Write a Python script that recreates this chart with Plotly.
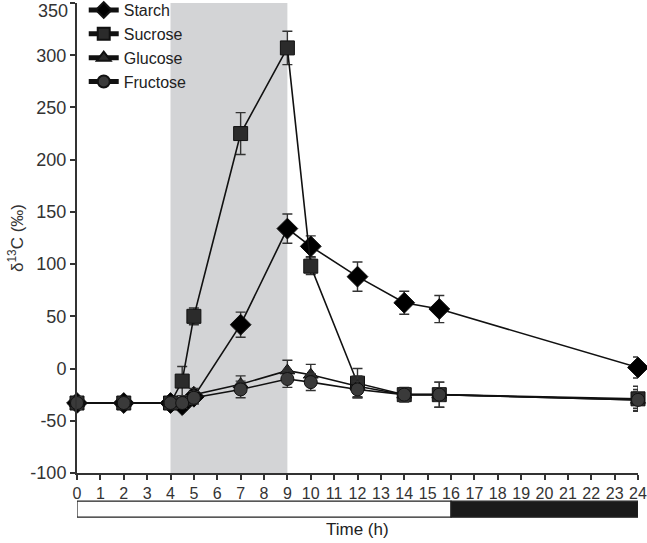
import plotly.graph_objects as go

time_h = [0, 2, 4, 4.5, 5, 7, 9, 10, 12, 14, 15.5, 24]
starch = [-33, -33, -33, -35, -27, 42, 134, 117, 88, 63, 57, 1]
starch_err = [6, 5, 5, 5, 6, 12, 14, 10, 14, 11, 13, 10]
sucrose = [-33, -33, -33, -12, 50, 225, 307, 98, -14, -25, -25, -29]
sucrose_err = [6, 5, 5, 14, 8, 20, 16, 8, 14, 7, 12, 12]
glucose = [-33, -33, -33, -33, -25, -15, -2, -6, -17, -25, -25, -30]
glucose_err = [6, 5, 5, 5, 6, 8, 10, 10, 10, 6, 6, 8]
fructose = [-33, -33, -33, -33, -28, -20, -10, -13, -20, -25, -25, -30]
fructose_err = [6, 5, 5, 5, 6, 8, 8, 8, 8, 6, 12, 10]

x_ticks = list(range(0, 25))
y_ticks = [-100, -50, 0, 50, 100, 150, 200, 250, 300, 350]
y_tick_text = ["-100", "-50", "0", "50", "100", "150", "200", "250", "300", "350"]
light_period = [4, 9]
day_night = [(0, 16, "white"), (16, 24, "#1a1a1a")]

series = [
    ("Starch", starch, starch_err, "diamond", 16, "#000000"),
    ("Sucrose", sucrose, sucrose_err, "square", 14, "#2b2b2b"),
    ("Glucose", glucose, glucose_err, "triangle-up", 13, "#2b2b2b"),
    ("Fructose", fructose, fructose_err, "circle", 13, "#3a3a3a"),
]

fig = go.Figure()
for name, vals, err, sym, size, col in series:
    fig.add_trace(go.Scatter(
        x=time_h, y=vals, name=name, mode="lines+markers",
        line=dict(color="#111111", width=1.6),
        marker=dict(symbol=sym, size=size, color=col,
                    line=dict(color="#111111", width=1)),
        error_y=dict(type="data", array=err, visible=True,
                     color="#333333", thickness=1.4, width=5),
        cliponaxis=False,
    ))

fig.add_shape(type="rect", xref="x", yref="y", x0=light_period[0], x1=light_period[1],
              y0=-100, y1=350, fillcolor="#d3d4d6", line=dict(width=0), layer="below")
for x0, x1, c in day_night:
    fig.add_shape(type="rect", xref="x", yref="paper", x0=x0, x1=x1,
                  y0=-0.094, y1=-0.060, fillcolor=c,
                  line=dict(color="#222222", width=1.2), layer="above")

fig.add_annotation(text="Time (h)", xref="paper", yref="paper", x=0.5, y=-0.12,
                   showarrow=False, xanchor="center", yanchor="middle",
                   font=dict(size=17, color="#222222"))

# top tick label drawn just below its tick so it stays inside the page
top_label = y_tick_text[-1]
y_tick_text_axis = y_tick_text[:-1] + [""]
fig.add_annotation(text=top_label, xref="paper", yref="y", x=0, y=y_ticks[-1],
                   xanchor="right", yanchor="top", xshift=-7, yshift=4,
                   showarrow=False, font=dict(size=18, color="#333333"))

fig.update_layout(
    width=647, height=543,
    margin=dict(l=77, r=9, t=3, b=70, autoexpand=False),
    plot_bgcolor="white", paper_bgcolor="white",
    font=dict(family="Liberation Sans, Arial, sans-serif", size=16, color="#333333"),
    showlegend=True,
    legend=dict(x=0.012, y=1.021, xanchor="left", yanchor="top",
                bgcolor="rgba(0,0,0,0)", font=dict(size=16, color="#222222"),
                itemsizing="constant", tracegroupgap=0, itemwidth=30),
    xaxis=dict(range=[0, 24], tickvals=x_ticks, ticktext=[str(t) for t in x_ticks],
               showgrid=False, zeroline=False, showline=True, automargin=False,
               ticklabeloverflow="allow",
               linecolor="#333333", linewidth=2, ticks="outside", ticklen=5,
               tickwidth=1.5, tickcolor="#333333", tickfont=dict(size=16)),
    yaxis=dict(range=[-100, 350], tickvals=y_ticks, ticktext=y_tick_text_axis,
               showgrid=False, zeroline=False, automargin=False,
               ticklabeloverflow="allow",
               showline=True, linecolor="#333333", linewidth=2, ticks="outside",
               ticklen=5, tickwidth=1.5, tickcolor="#333333", tickfont=dict(size=18),
               title=dict(text="δ<sup>13</sup>C (‰)", font=dict(size=17, color="#333333"),
                          standoff=2)),
)

fig.write_html("out.html", post_script="document.body.style.margin='0';",
               config={"displayModeBar": False})
